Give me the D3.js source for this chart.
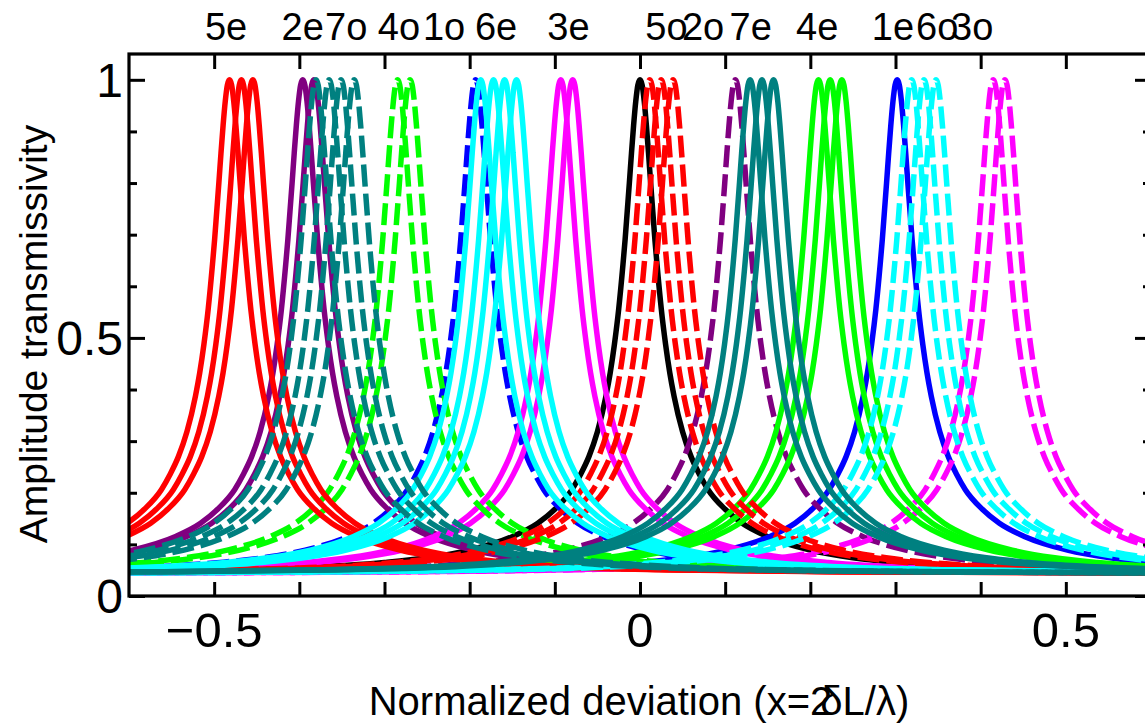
<!DOCTYPE html>
<html>
<head>
<meta charset="utf-8">
<script src="https://cdn.jsdelivr.net/npm/d3@7/dist/d3.min.js"></script>
<style>
  html, body { margin: 0; padding: 0; background: #fff; }
  svg { display: block; }
  text { font-family: "Liberation Sans", Arial, Helvetica, sans-serif; fill: #000; }
</style>
</head>
<body>
<svg id="chart" width="1145" height="723"></svg>
<script>
// ---------------- data ----------------
// Curve families: name, colour, dash style
const familyNames  = ["ref", "1e", "1o", "2e", "2o", "3e", "3o", "4e", "4o", "5e", "5o", "6e", "6o", "7e", "7o"];
const familyColors = ["#000000", "#0000ff", "#0000ff", "#800080", "#800080", "#ff00ff", "#ff00ff",
                      "#00ff00", "#00ff00", "#ff0000", "#ff0000", "#00ffff", "#00ffff", "#008080", "#008080"];
const familyDashed = [false, false, true, false, true, false, true, false, true, false, true, false, true, false, true];
// Peak positions (normalized deviation) of each curve in each family
const peakCenters = [
  [0.0],
  [0.302],
  [-0.193],
  [-0.396, -0.383],
  [0.112],
  [-0.093, -0.079],
  [0.4148, 0.4285],
  [0.2096, 0.2233, 0.2370],
  [-0.2846, -0.2700],
  [-0.4820, -0.4680, -0.4546],
  [0.0115, 0.0249, 0.0389],
  [-0.187, -0.172, -0.159, -0.145],
  [0.3190, 0.3335, 0.3476],
  [0.1293, 0.1432, 0.1568],
  [-0.3804, -0.3650, -0.3510, -0.3355]
];
// Peak shape: transmissivity vs distance from the peak
const profileOffset = [0, 0.0025, 0.005, 0.0075, 0.01, 0.0125, 0.015, 0.0175, 0.02, 0.025, 0.03, 0.035,
                       0.04, 0.05, 0.06, 0.07, 0.08, 0.10, 0.12, 0.15, 0.20, 0.25, 0.30, 0.40, 0.50, 0.70, 1.20];
const profileValue  = [1.0, 0.99, 0.958, 0.912, 0.858, 0.80, 0.745, 0.69, 0.642, 0.556, 0.488, 0.432,
                       0.387, 0.318, 0.270, 0.235, 0.206, 0.168, 0.141, 0.115, 0.089, 0.074, 0.065, 0.055, 0.051, 0.047, 0.044];
// Top labels (family names) and their positions
const topLabels    = ["5e", "2e", "7o", "4o", "1o", "6e", "3e", "5o", "2o", "7e", "4e", "1e", "6o", "3o"];
const topLabelPos  = [-0.486, -0.396, -0.345, -0.283, -0.230, -0.169, -0.084, 0.031, 0.074, 0.130, 0.208, 0.297, 0.349, 0.390];
// Axis ticks
const xTickValues  = [-0.5, -0.4, -0.3, -0.2, -0.1, 0, 0.1, 0.2, 0.3, 0.4, 0.5];
const xTickLabels  = [[-0.5, "\u22120.5"], [0, "0"], [0.5, "0.5"]];
const yMajorTicks  = [0, 0.5, 1];
const yMinorTicks  = [0.1, 0.2, 0.3, 0.4, 0.6, 0.7, 0.8, 0.9];
const yTickLabels  = [[0, "0"], [0.5, "0.5"], [1, "1"]];

// ---------------- layout ----------------
const L = 129, R = 1151, T = 54, B = 596;
const svg = d3.select("#chart");
const x = d3.scaleLinear().domain([-0.6, 0.6]).range([L, R]);
const y = d3.scaleLinear().domain([0, 1.05]).range([B, T]);

svg.append("defs").append("clipPath").attr("id", "plotclip")
  .append("rect").attr("x", L).attr("y", T).attr("width", R - L).attr("height", B - T);

// ---------------- curves ----------------
const line = d3.line().x(d => x(d[0])).y(d => y(d[1])).curve(d3.curveMonotoneX);
function peakPoints(c) {
  const pts = [];
  for (let i = profileOffset.length - 1; i > 0; i--) pts.push([c - profileOffset[i], profileValue[i]]);
  pts.push([c, profileValue[0]]);
  for (let i = 1; i < profileOffset.length; i++) pts.push([c + profileOffset[i], profileValue[i]]);
  return pts;
}
const gCurves = svg.append("g").attr("clip-path", "url(#plotclip)");
familyNames.forEach((name, fi) => {
  peakCenters[fi].forEach(c => {
    gCurves.append("path")
      .attr("d", line(peakPoints(c)))
      .attr("fill", "none")
      .attr("stroke", familyColors[fi])
      .attr("stroke-width", 5.5)
      .attr("stroke-linejoin", "round")
      .attr("stroke-dasharray", familyDashed[fi] ? "22,7" : null);
  });
});

// ---------------- axes ----------------
const axisStyle = g => { g.select(".domain").remove(); g.selectAll("line").attr("stroke", "#000").attr("stroke-width", 3); g.selectAll("text").remove(); };
svg.append("g").attr("transform", `translate(0,${B})`)
  .call(d3.axisBottom(x).tickValues(xTickValues).tickSize(-14).tickFormat("")).call(axisStyle);
svg.append("g").attr("transform", `translate(0,${T})`)
  .call(d3.axisTop(x).tickValues(xTickValues).tickSize(-15).tickFormat("")).call(axisStyle);
svg.append("g").attr("transform", `translate(${L},0)`)
  .call(d3.axisLeft(y).tickValues(yMajorTicks).tickSize(-16).tickFormat("")).call(axisStyle);
svg.append("g").attr("transform", `translate(${L},0)`)
  .call(d3.axisLeft(y).tickValues(yMinorTicks).tickSize(-8).tickFormat("")).call(axisStyle);
svg.append("g").attr("transform", `translate(${R},0)`)
  .call(d3.axisRight(y).tickValues(yMajorTicks).tickSize(-16).tickFormat("")).call(axisStyle);
svg.append("g").attr("transform", `translate(${R},0)`)
  .call(d3.axisRight(y).tickValues(yMinorTicks).tickSize(-8).tickFormat("")).call(axisStyle);

// frame
svg.append("rect").attr("x", L).attr("y", T).attr("width", R - L).attr("height", B - T)
  .attr("fill", "none").attr("stroke", "#000").attr("stroke-width", 3.2);

// tick labels
svg.selectAll(".xlab").data(xTickLabels).enter().append("text")
  .attr("x", d => x(d[0])).attr("y", 647).attr("text-anchor", "middle")
  .attr("font-size", 49).text(d => d[1]);
svg.selectAll(".ylab").data(yTickLabels).enter().append("text")
  .attr("x", 123).attr("y", d => y(d[0])).attr("dy", "0.36em").attr("text-anchor", "end")
  .attr("font-size", 48).text(d => d[1]);

// top family labels
svg.selectAll(".tlab").data(topLabels).enter().append("text")
  .attr("x", (d, i) => x(topLabelPos[i])).attr("y", 40).attr("text-anchor", "middle")
  .attr("font-size", 38).text(d => d);

// axis titles
const xt = svg.append("text").attr("x", 639).attr("y", 715).attr("text-anchor", "middle").attr("font-size", 40);
xt.append("tspan").text("Normalized deviation (x=2");
xt.append("tspan").attr("dx", -12).text("\u03b4");
xt.append("tspan").text("L/\u03bb)");
svg.append("text").attr("transform", "translate(47,334) rotate(-90)").attr("text-anchor", "middle")
  .attr("font-size", 39).text("Amplitude transmissivity");
</script>
</body>
</html>
